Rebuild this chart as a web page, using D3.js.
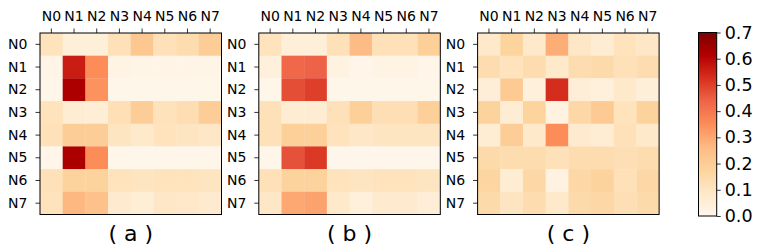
<!DOCTYPE html>
<html><head><meta charset="utf-8">
<script src="https://cdn.jsdelivr.net/npm/d3@7"></script>
<style>body{margin:0;background:#fff}svg{display:block}text{font-family:"DejaVu Sans",sans-serif}</style>
</head><body><svg id="c" width="766" height="250"></svg>
<script>
const nodes = ["N0","N1","N2","N3","N4","N5","N6","N7"];
const panelLabels = ["( a )","( b )","( c )"];
const colorTicks = [0,0.1,0.2,0.3,0.4,0.5,0.6,0.7];
const orrd = ["#fff7ec","#fee8c8","#fdd49e","#fdbb84","#fc8d59","#ef6548","#d7301f","#b30000","#7f0000"];

const valuesA = [
  [0.11,0.045,0.045,0.12,0.22,0.12,0.14,0.20],
  [0.015,0.56,0.35,0.02,0.012,0.015,0.015,0.012],
  [0.008,0.625,0.34,0.005,0.005,0.005,0.006,0.005],
  [0.11,0.06,0.055,0.125,0.20,0.115,0.135,0.20],
  [0.12,0.20,0.20,0.10,0.08,0.11,0.10,0.09],
  [0.008,0.625,0.35,0.004,0.004,0.005,0.005,0.004],
  [0.12,0.18,0.18,0.11,0.10,0.11,0.11,0.10],
  [0.11,0.27,0.24,0.07,0.055,0.09,0.085,0.07]
];
const valuesB = [
  [0.11,0.045,0.045,0.12,0.26,0.12,0.12,0.19],
  [0.04,0.43,0.44,0.03,0.01,0.02,0.02,0.01],
  [0.005,0.475,0.50,0.004,0.004,0.004,0.004,0.004],
  [0.12,0.06,0.06,0.12,0.19,0.13,0.13,0.19],
  [0.12,0.19,0.19,0.11,0.09,0.10,0.10,0.10],
  [0.005,0.47,0.51,0.003,0.003,0.003,0.003,0.003],
  [0.12,0.18,0.18,0.11,0.10,0.11,0.11,0.10],
  [0.09,0.30,0.31,0.08,0.04,0.07,0.07,0.05]
];
const valuesC = [
  [0.08,0.175,0.08,0.29,0.09,0.06,0.11,0.09],
  [0.14,0.11,0.14,0.08,0.14,0.15,0.12,0.14],
  [0.05,0.21,0.04,0.53,0.05,0.04,0.08,0.045],
  [0.18,0.06,0.175,0.03,0.16,0.21,0.11,0.18],
  [0.06,0.20,0.08,0.35,0.07,0.06,0.12,0.08],
  [0.15,0.14,0.14,0.12,0.14,0.14,0.13,0.14],
  [0.17,0.06,0.16,0.03,0.16,0.18,0.12,0.16],
  [0.15,0.10,0.14,0.08,0.15,0.16,0.13,0.15]
];
const panels = [valuesA, valuesB, valuesC];

const svg = d3.select("#c");
svg.append("rect").attr("width",766).attr("height",250).attr("fill","#fff");

const vmax = 0.7;
const color = d3.scaleLinear()
  .domain(orrd.map((_,i)=> i*vmax/(orrd.length-1)))
  .range(orrd).interpolate(d3.interpolateRgb).clamp(true);

const size = 181.5, panelTop = 33;
const panelX = d3.scaleLinear().domain([0,1]).range([40,258.8]);
const band = d3.scaleBand().domain(nodes).range([0,size]);

panels.forEach((vals,p)=>{
  const g = svg.append("g").attr("transform",`translate(${panelX(p)},${panelTop})`);
  vals.forEach((row,i)=>{
    g.selectAll(null).data(row).enter().append("rect")
      .attr("x",(d,j)=>band(nodes[j]))
      .attr("y",band(nodes[i]))
      .attr("width",band.bandwidth()+0.3)
      .attr("height",band.bandwidth()+0.3)
      .attr("fill",d=>color(d));
  });
  g.append("rect").attr("width",size).attr("height",size)
    .attr("fill","none").attr("stroke","#000").attr("stroke-width",1);
  const ax = g.append("g").call(d3.axisTop(band).tickSize(4.5).tickPadding(7.8));
  const ay = g.append("g").call(d3.axisLeft(band).tickSize(4.5).tickPadding(8));
  [ax,ay].forEach(a=>{
    a.select(".domain").remove();
    a.selectAll("line").attr("stroke","#000").attr("stroke-width",0.8);
    a.selectAll("text").attr("font-size",14).attr("fill","#000").attr("font-family","DejaVu Sans");
  });
  g.append("text").attr("x",size/2).attr("y",size+26)
    .attr("text-anchor","middle").attr("font-size",22).attr("fill","#000")
    .text(panelLabels[p]);
});

// colorbar
const cbX = 698.5, cbW = 18.2, cbTop = 32.5, cbBot = 216;
const defs = svg.append("defs");
const grad = defs.append("linearGradient").attr("id","cbg")
  .attr("x1",0).attr("y1",1).attr("x2",0).attr("y2",0);
grad.selectAll("stop").data(orrd).enter().append("stop")
  .attr("offset",(d,i)=>i/(orrd.length-1)).attr("stop-color",d=>d);
svg.append("rect").attr("x",cbX).attr("y",cbTop).attr("width",cbW).attr("height",cbBot-cbTop)
  .attr("fill","url(#cbg)").attr("stroke","#000").attr("stroke-width",1);
const cy = d3.scaleLinear().domain([0,vmax]).range([cbBot,cbTop]);
const cax = svg.append("g").attr("transform",`translate(${cbX+cbW},0)`)
  .call(d3.axisRight(cy).tickValues(colorTicks).tickFormat(d3.format(".1f")).tickSize(4).tickPadding(4));
cax.select(".domain").remove();
cax.selectAll("line").attr("stroke","#000").attr("stroke-width",0.8);
cax.selectAll("text").attr("font-size",17.5).attr("fill","#000").attr("font-family","DejaVu Sans");
</script></body></html>
